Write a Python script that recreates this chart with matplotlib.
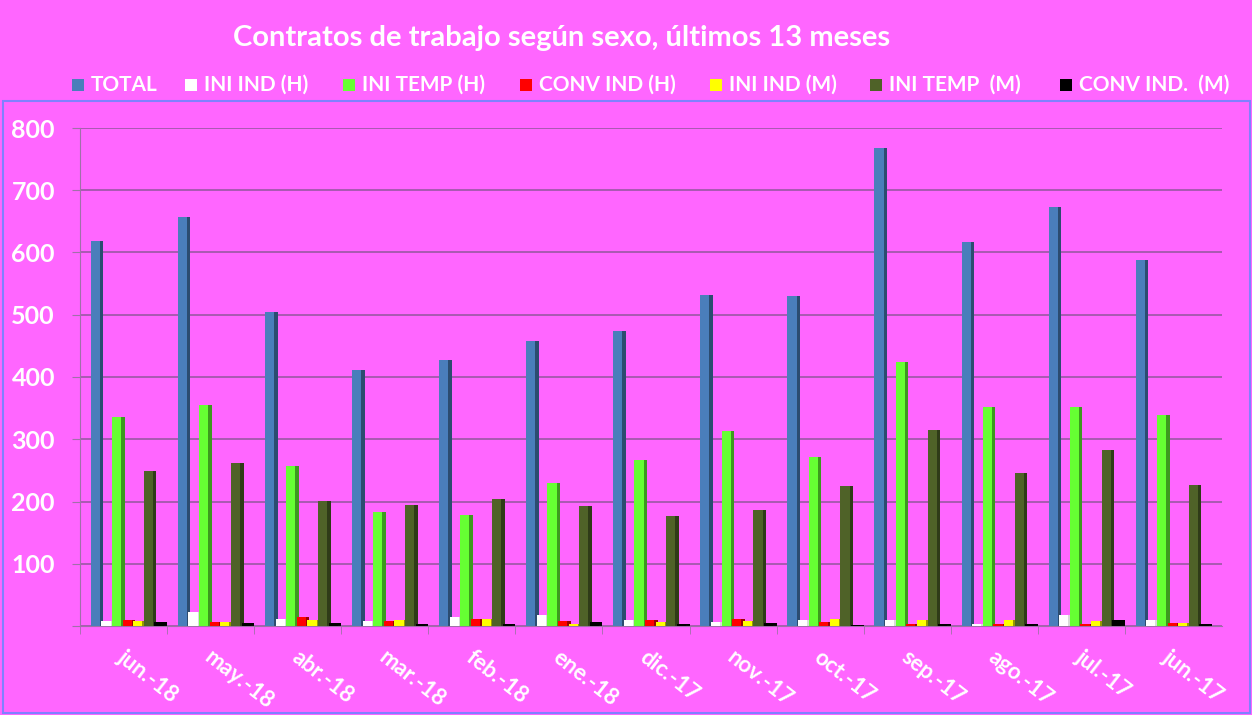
import matplotlib
matplotlib.use("Agg")
import matplotlib.pyplot as plt
from matplotlib.patches import Rectangle
import matplotlib.colors as mcolors
import numpy as np

months = ["jun.-18", "may.-18", "abr.-18", "mar.-18", "feb.-18", "ene.-18", "dic.-17",
          "nov.-17", "oct.-17", "sep.-17", "ago.-17", "jul.-17", "jun.-17"]
total = [619, 657, 505, 411, 427, 458, 474, 532, 530, 768, 617, 673, 588]
ini_ind_h = [8, 22, 12, 8, 15, 17, 10, 6, 10, 10, 4, 18, 10]
ini_temp_h = [336, 355, 257, 183, 178, 230, 267, 313, 272, 424, 352, 352, 339]
conv_ind_h = [10, 6, 15, 8, 12, 8, 9, 12, 7, 3, 3, 3, 5]
ini_ind_m = [8, 7, 10, 10, 12, 4, 6, 8, 12, 10, 10, 8, 5]
ini_temp_m = [249, 262, 201, 195, 204, 193, 177, 186, 225, 315, 246, 283, 227]
conv_ind_m = [7, 5, 5, 4, 4, 7, 4, 5, 2, 3, 3, 10, 4]

series_labels = ["TOTAL", "INI IND (H)", "INI TEMP (H)", "CONV IND (H)",
                 "INI IND (M)", "INI TEMP  (M)", "CONV IND.  (M)"]
series = [total, ini_ind_h, ini_temp_h, conv_ind_h, ini_ind_m, ini_temp_m, conv_ind_m]
colors = ["#4A7EBB", "#FFFFFF", "#66FF33", "#FF0000", "#FFFF00", "#4F6228", "#000000"]

BG = "#FF66FF"
W, H = 1252, 715
fig = plt.figure(figsize=(W / 100, H / 100), dpi=100, facecolor=BG)
plt.rcParams['font.family'] = ['Lato', 'DejaVu Sans']

# frame around plot area
fig.patches.append(Rectangle((3 / W, 1 - 713 / H), 1247 / W, 612 / H, transform=fig.transFigure,
                             fill=False, edgecolor="#8080FF", linewidth=1.5, zorder=0))

ax = fig.add_axes([80 / W, 1 - 626 / H, (1222 - 80) / W, (626 - 128) / H])
ax.set_facecolor(BG)

x = np.arange(len(months))
slot = 0.122
bw = 0.105
depth = 0.04
offsets = -0.324 + slot * np.arange(len(series))
for i, (vals, c) in enumerate(zip(series, colors)):
    xs = x + offsets[i]
    dark = np.array(mcolors.to_rgb(c)) * 0.6
    if c == "#FFFFFF":
        dark = np.array([0.85, 0.85, 0.85])
    ax.bar(xs + bw / 2 + depth / 2, np.array(vals), width=depth, bottom=0,
           color=dark, zorder=2, linewidth=0)
    ax.bar(xs, vals, width=bw, color=c, zorder=3, linewidth=0)

ax.set_ylim(0, 800)
ax.set_xlim(-0.5, 12.615)
ax.set_yticks(range(0, 801, 100))
ax.set_yticklabels(["", "100", "200", "300", "400", "500", "600", "700", "800"])
ax.yaxis.grid(True, color="#A85AB0", linewidth=1.4, zorder=0)
ax.set_axisbelow(True)
for s in ["top", "right"]:
    ax.spines[s].set_visible(False)
ax.spines["left"].set_color("#A070A8")
ax.spines["bottom"].set_color("#A070A8")
ax.tick_params(axis="y", colors="#A070A8", length=6, pad=12, labelsize=18, labelcolor="white")
for t in ax.get_yticklabels():
    t.set_fontweight("bold")

ax.set_xticks(x - 0.5, minor=True)
ax.tick_params(axis="x", which="minor", length=6, color="#A070A8")
ax.set_xticks(x - 0.04)
ax.set_xticklabels(months, rotation=-38, ha="left", va="center", rotation_mode="anchor",
                   fontsize=16, color="white", fontweight="bold")
ax.tick_params(axis="x", which="major", length=0, pad=21)

fig.text(562 / W, 1 - 38 / H, "Contratos de trabajo según sexo, últimos 13 meses",
         ha="center", va="center", color="white", fontsize=21, fontweight="bold")

leg_sq = [72, 185, 343, 520, 710, 870, 1060]
for sx, lab, c in zip(leg_sq, series_labels, colors):
    fig.patches.append(Rectangle((sx / W, 1 - 91 / H), 12 / W, 12 / H, transform=fig.transFigure,
                                 facecolor=c, edgecolor="none"))
    fig.text((sx + 19) / W, 1 - 85 / H, lab, ha="left", va="center", color="white",
             fontsize=15, fontweight="bold")

fig.savefig("out.png", dpi=100, facecolor=BG)
